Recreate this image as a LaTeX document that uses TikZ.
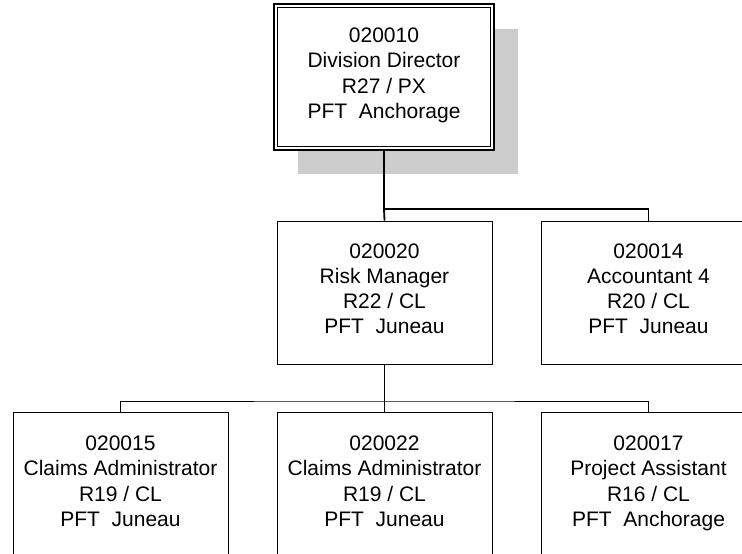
\documentclass[tikz,border=0pt]{standalone}
\usepackage{fontspec}
\setmainfont{Liberation Sans}
\begin{document}
\begin{tikzpicture}[x=1pt,y=-1pt,
  box/.style={draw=black, line width=0.9pt, fill=white, rectangle, align=center,
    minimum width=215pt, minimum height=143pt, inner sep=0pt,
    font=\fontsize{21}{25.3}\selectfont,
    execute at begin node=\rule{0pt}{22pt}, execute at end node=\strut},
  conn/.style={draw=black, line width=0.9pt},
  mainconn/.style={draw=black, line width=1.8pt}]
\useasboundingbox (0,0) rectangle (742,554);
\clip (0,0) rectangle (742,554);
\fill[white] (0,0) rectangle (742,554);
% shadow
\fill[black!20] (298,29) rectangle (518,174);
% top box
\node[box, minimum width=220pt, minimum height=146pt, line width=1.2pt] (top) at (384,77)
  {020010\\Division Director\\R27 / PX\\PFT~~Anchorage};
\draw[line width=0.9pt] ([shift={(4.5,4.5)}]top.north west) rectangle ([shift={(-4.5,-4.5)}]top.south east);
% second level
\node[box] (rm) at (384.5,292.5) {020020\\Risk Manager\\R22 / CL\\PFT~~Juneau};
\node[box] (acc) at (648.5,292.5) {020014\\Accountant 4\\R20 / CL\\PFT~~Juneau};
% third level
\node[box, minimum height=146pt] (c1) at (120.5,485) {020015\\Claims Administrator\\R19 / CL\\PFT~~Juneau};
\node[box, minimum height=146pt] (c2) at (384.5,485) {020022\\Claims Administrator\\R19 / CL\\PFT~~Juneau};
\node[box, minimum height=146pt] (c3) at (648.5,485) {020017\\Project Assistant\\R16 / CL\\PFT~~Anchorage};
% connectors
\coordinate (b1) at (384,209);
\coordinate (b2) at (384.5,401);
\draw[mainconn] (top.south) -- (b1) -| (acc.north);
\draw[mainconn] (b1) -- (rm.north);
\draw[conn] (rm.south) -- (b2);
\draw[conn] (c1.north) |- (b2) -| (c3.north);
\draw[conn] (b2) -- (c2.north);
\end{tikzpicture}
\end{document}
